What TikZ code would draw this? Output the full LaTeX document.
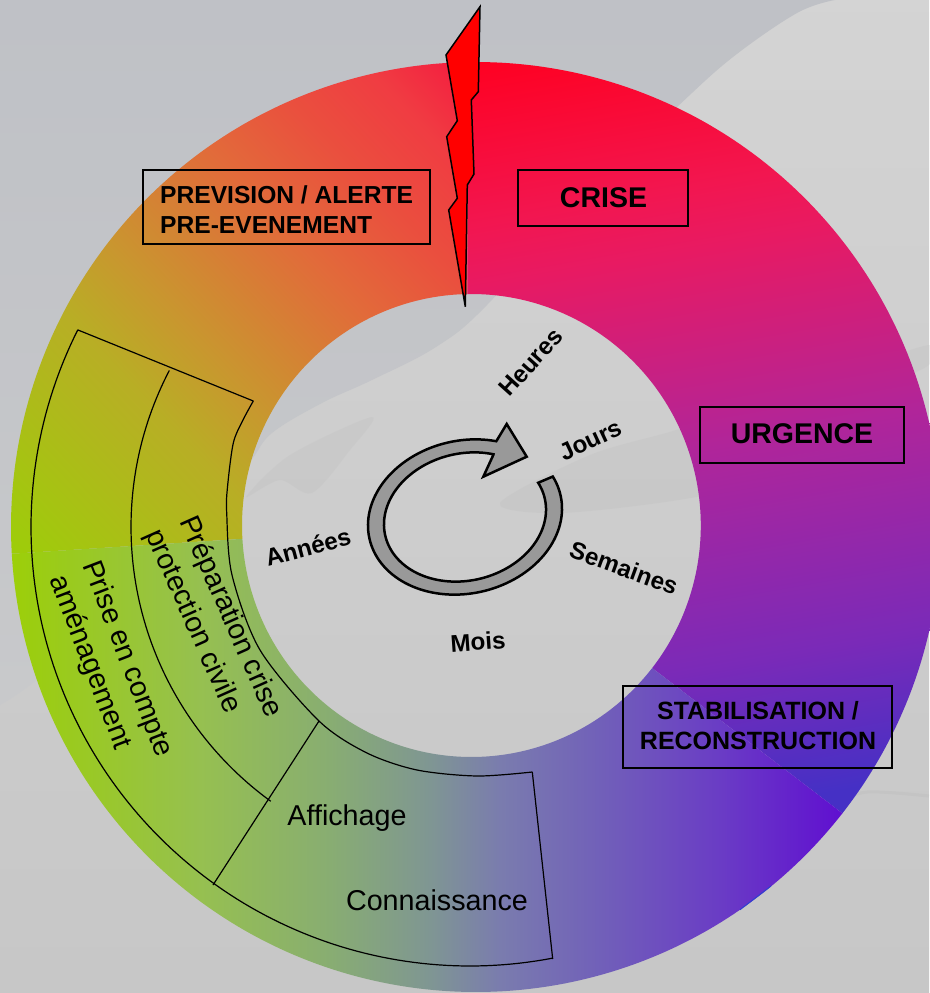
\documentclass[tikz,border=0pt]{standalone}
\usepackage{fontspec}
\setmainfont{Liberation Sans}
\usetikzlibrary{calc}
\definecolor{la}{HTML}{F5183F}\definecolor{lb}{HTML}{F03C42}\definecolor{lc}{HTML}{EA4F3E}
\definecolor{ld}{HTML}{E26A3A}\definecolor{le}{HTML}{C9962F}\definecolor{lf}{HTML}{B8AE25}
\definecolor{lg}{HTML}{A0CA0C}\definecolor{lh}{HTML}{9AD005}
\pgfdeclarehorizontalshading{secL}{1600pt}{color(0pt)=(la);color(80pt)=(lb);color(160pt)=(lc);color(250pt)=(ld);color(390pt)=(le);color(470pt)=(lf);color(650pt)=(lg);color(700pt)=(lh);color(1000pt)=(lh)}
\definecolor{ra}{HTML}{FF0020}\definecolor{rb}{HTML}{F21650}\definecolor{rc}{HTML}{E81A62}
\definecolor{rd}{HTML}{B0259A}\definecolor{re}{HTML}{7A2AB8}\definecolor{rf}{HTML}{4530C5}
\pgfdeclarehorizontalshading{secR}{1600pt}{color(0pt)=(ra);color(166pt)=(rb);color(227pt)=(rc);color(426pt)=(rd);color(643pt)=(re);color(786pt)=(rf);color(1000pt)=(rf)}
\definecolor{ba}{HTML}{9CCF08}\definecolor{bb}{HTML}{96C050}\definecolor{bc}{HTML}{88AD72}
\definecolor{bd}{HTML}{7F9693}\definecolor{be}{HTML}{7A7CAE}\definecolor{bf}{HTML}{7160B9}
\definecolor{bg}{HTML}{6A3CC5}\definecolor{bh}{HTML}{6010D0}
\pgfdeclarehorizontalshading{secB}{1600pt}{color(0pt)=(ba);color(190pt)=(bb);color(320pt)=(bc);color(420pt)=(bd);color(490pt)=(be);color(590pt)=(bf);color(710pt)=(bg);color(830pt)=(bh);color(1000pt)=(bh)}
\definecolor{arrowgray}{HTML}{999999}
\definecolor{boltred}{HTML}{FF0000}
\definecolor{sliver}{HTML}{3040D0}
\definecolor{skya}{HTML}{BFC1C6}\definecolor{skyb}{HTML}{C8C9CB}
\tikzset{
  labelbox/.style={draw=black,line width=1.4pt,inner sep=0pt},
  boxtext/.style={inner sep=0pt,font=\fontsize{24.6}{30}\selectfont\bfseries,align=left},
  boxtextb/.style={inner sep=0pt,font=\fontsize{28.5}{30}\selectfont\bfseries},
  boxtextc/.style={inner sep=0pt,font=\fontsize{25}{30}\selectfont\bfseries,align=center},
  timelabel/.style={inner sep=0pt,font=\fontsize{24.2}{28}\selectfont\bfseries},
  zonelabel/.style={inner sep=0pt,font=\fontsize{28.7}{36}\selectfont,align=center},
  zoneline/.style={draw=black,line width=1.2pt},
  shadenode/.style={inner sep=0pt,outer sep=0pt},
}
\newcommand{\ringsector}[2]{plot[domain=#1:#2,samples=160] ({476+465*cos(\x)},{527-465*sin(\x)}) -- plot[domain=#2:#1,samples=120] ({471.4+229.4*cos(\x)},{525.5-231.5*sin(\x)}) -- cycle}
\begin{document}
\begin{tikzpicture}[x=1pt,y=-1pt]
\useasboundingbox (0,0) rectangle (929,993);
% ---- background
\shade[top color=black!17,bottom color=black!22] (0,0) rectangle (929,993);
\shade[top color=skya,bottom color=skyb] (0,0) -- (835,0) -- plot[smooth,tension=.6] coordinates {(835,0) (797,13) (733,57) (677,107) (590,190) (487,305) (436,347) (372,380) (322,403) (272,433) (249,463) (200,520) (60,660) (0,705)} -- cycle;
\fill[black!28,opacity=.2] plot[smooth cycle] coordinates {(246,497) (290,455) (372,417) (350,450) (312,493) (280,480)};
\fill[black!25,opacity=.3] plot[smooth cycle] coordinates {(500,503) (590,455) (676,430) (760,400) (780,470) (696,497) (562,513)};
\fill[black!28,opacity=.2] plot[smooth cycle] coordinates {(860,370) (929,345) (929,365) (880,385)};
\draw[black!26,line width=3pt,opacity=.4] plot[smooth] coordinates {(929,796) (867,792) (840,805) (800,850)};
% ---- ring
\begin{scope}
  \clip \ringsector{91}{183.3};
  \node[shadenode,rotate=223] (shadeL) at (105,400) {\pgfuseshading{secL}};
\end{scope}
\begin{scope}
  \clip \ringsector{-38}{91};
  \node[shadenode,rotate=-80] (shadeR) at (555,550) {\pgfuseshading{secR}};
\end{scope}
\begin{scope}
  \clip \ringsector{183.3}{322};
  \node[shadenode] (shadeB) at (510,527) {\pgfuseshading{secB}};
\end{scope}
\coordinate (sliverA) at (740,909.7);
\coordinate (sliverB) at (771,886);
\draw[sliver,line width=1pt] (sliverA) -- (sliverB);
% ---- zone outlines
\coordinate (pa) at (78,330);
\coordinate (pb) at (253.3,401);
\coordinate (pc) at (319,721);
\coordinate (pd) at (213,885);
\coordinate (pe) at (532.3,772);
\coordinate (pf) at (552.7,959);
\draw[zoneline] (pa) -- (pb);
\draw[zoneline] (pc) -- (pd);
\draw[zoneline] (pe) -- (pf);
\draw[zoneline] plot[domain=153.3:280.8,samples=120] ({470+439*cos(\x)},{527-439*sin(\x)});
\draw[zoneline] plot[domain=152.5:234,samples=80] ({470+339*cos(\x)},{527-339*sin(\x)});
\draw[zoneline] plot[smooth] coordinates {(253.3,401) (243,420) (233.3,443) (227.5,487) (226.7,513) (232,575) (260,650) (319,721) (367,753) (417,770) (477,776) (532.3,772)};
% ---- bolt
\draw[fill=boltred,draw=black,line width=1.5pt,line join=miter] (480,6.7) -- (446,55) -- (457.3,120.7) -- (446.7,136.7) -- (457.3,198.3) -- (448.7,210) -- (465.3,306.7) -- (467.3,185) -- (474,174) -- (471.3,100) -- (478.3,91.7) -- cycle;
% ---- cycle arrow
\draw[fill=arrowgray,draw=black,line width=2.5pt,line join=miter]
  plot[domain=24:-290,samples=120] ({465+97*cos(\x)-2*sin(\x)},{517-10*cos(\x)-77*sin(\x)})
  -- (506.7,424) -- (526.7,456.7) -- (483.3,476.7) -- (493.3,455)
  -- plot[domain=-292:24,samples=120] ({465+81*cos(\x)-2*sin(\x)},{517-9*cos(\x)-64*sin(\x)})
  -- cycle;
% ---- boxes
\node[labelbox,minimum width=287pt,minimum height=74pt] (prev) at (286.5,207) {};
\node[boxtext,anchor=west] (prevtext) at (160,210) {PREVISION / ALERTE\\PRE-EVENEMENT};
\node[labelbox,minimum width=170pt,minimum height=56pt] (crise) at (603,198) {};
\node[boxtextb] (crisetext) at (603.5,198) {CRISE};
\node[labelbox,minimum width=204pt,minimum height=56pt] (urg) at (802,435) {};
\node[boxtextb] (urgtext) at (802,434) {URGENCE};
\node[labelbox,minimum width=269pt,minimum height=82pt] (stab) at (757.5,727) {};
\node[boxtextc] (stabtext) at (758,726) {STABILISATION /\\RECONSTRUCTION};
% ---- time labels
\node[timelabel,rotate=48] (heures) at (530.7,362) {Heures};
\node[timelabel,rotate=25] (jours) at (590.7,440) {Jours};
\node[timelabel,rotate=-20] (semaines) at (624,568) {Semaines};
\node[timelabel,rotate=4] (mois) at (478,641.7) {Mois};
\node[timelabel,rotate=15] (annees) at (308,547) {Années};
% ---- zone labels
\node[zonelabel,rotate=-66] (prep) at (209,614) {\hspace*{23pt}Préparation crise\\protection civile};
\node[zonelabel,rotate=-69] (prise) at (106.5,656.3) {\hspace*{20pt}Prise en compte\\aménagement};
\node[zonelabel] (aff) at (347,818) {Affichage};
\node[zonelabel] (conn) at (437,900) {Connaissance};
\end{tikzpicture}
\end{document}
